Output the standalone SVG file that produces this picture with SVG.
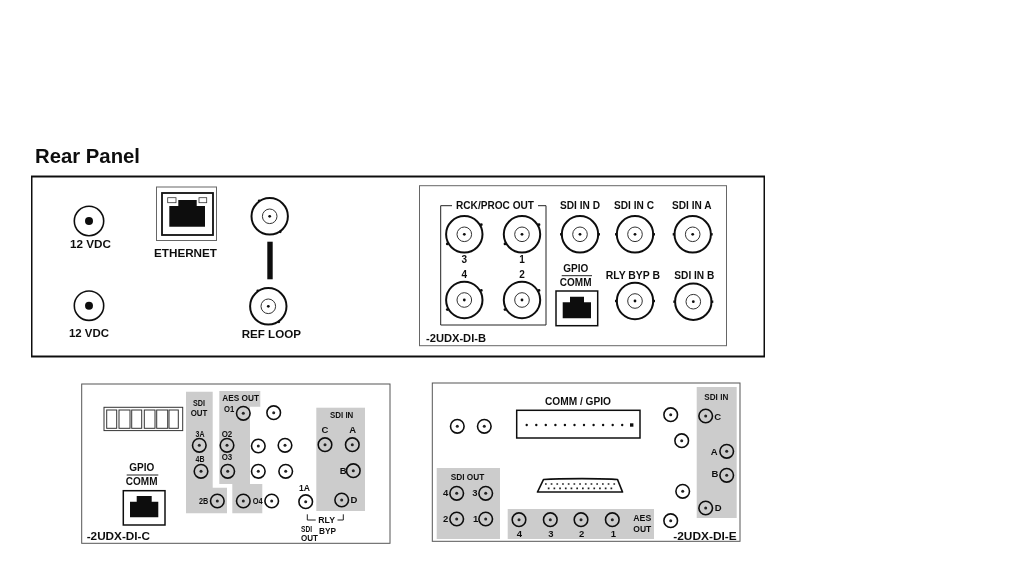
<svg xmlns="http://www.w3.org/2000/svg" width="1024" height="568" viewBox="0 0 1024 568">
<style>
text{font-family:"Liberation Sans",Arial,sans-serif;font-weight:700;fill:#111;font-size:10px}
.m{text-anchor:middle}
.b{font-size:11.5px}
.s{font-size:9.5px}
.t{font-size:8.5px}
.id{font-size:11.5px}
.g{fill:#ccc;stroke:none}
.k{fill:#111;stroke:none}
.l{fill:none;stroke:#222;stroke-width:1}
</style>
<defs>
<filter id="soft" x="0" y="0" width="100%" height="100%"><feGaussianBlur stdDeviation="0.3"/></filter>
<g id="dc"><circle r="14.7" fill="#fff" stroke="#111" stroke-width="1.6"/><circle r="4" fill="#111"/></g>
<g id="bncH"><circle r="18.2" fill="#fff" stroke="#111" stroke-width="2"/><circle r="7.3" fill="#fff" stroke="#333" stroke-width="1"/><circle r="1.4" fill="#111"/><rect x="-20" y="-1.2" width="2.5" height="2.4" fill="#111"/><rect x="17.5" y="-1.2" width="2.5" height="2.4" fill="#111"/></g>
<g id="bncU"><circle r="18.2" fill="#fff" stroke="#111" stroke-width="2"/><circle r="7.3" fill="#fff" stroke="#333" stroke-width="1"/><circle r="1.4" fill="#111"/><circle cx="17" cy="-9.6" r="1.4" fill="#111"/><circle cx="-17" cy="9.6" r="1.4" fill="#111"/></g>
<g id="bncD"><circle r="18.2" fill="#fff" stroke="#111" stroke-width="2"/><circle r="7.3" fill="#fff" stroke="#333" stroke-width="1"/><circle r="1.4" fill="#111"/><circle cx="-10.5" cy="-15.5" r="1.4" fill="#111"/><circle cx="10.5" cy="15.5" r="1.4" fill="#111"/></g>
<g id="sm"><circle r="6.8" fill="none" stroke="#111" stroke-width="1.6"/><circle r="1.5" fill="#222"/></g>
</defs>
<g filter="url(#soft)">
<text x="35" y="163" style="font-size:19.5px" textLength="105" lengthAdjust="spacingAndGlyphs">Rear Panel</text>

<g id="rear-panel">
<rect x="31.5" y="176.5" width="733" height="180" fill="#fff" stroke="#111" stroke-width="2"/>
<use href="#dc" x="89" y="221"/>
<text class="b" x="70" y="248" textLength="41" lengthAdjust="spacingAndGlyphs">12 VDC</text>
<use href="#dc" x="89" y="305.7"/>
<text class="b" x="69" y="336.7" textLength="40" lengthAdjust="spacingAndGlyphs">12 VDC</text>
<g id="ethernet">
<rect x="156.5" y="187" width="60" height="53.5" fill="#fff" stroke="#666" stroke-width="1"/>
<rect x="162" y="193" width="51" height="42" fill="#fff" stroke="#111" stroke-width="1.8"/>
<path class="k" d="M169.3 226.7V206H178.3V200H196.7V206H205V226.7Z"/>
<rect x="167.7" y="197.7" width="8.3" height="5" fill="#fff" stroke="#333" stroke-width=".8"/>
<rect x="199" y="197.7" width="7.7" height="5" fill="#fff" stroke="#333" stroke-width=".8"/>
<text class="b" x="154" y="256.7" textLength="63" lengthAdjust="spacingAndGlyphs">ETHERNET</text>
</g>
<use href="#bncD" x="269.7" y="216.3"/>
<rect class="k" x="267.3" y="241.7" width="5.4" height="37.6"/>
<use href="#bncD" x="268.3" y="306.3"/>
<text class="b" x="241.7" y="338" textLength="59.3" lengthAdjust="spacingAndGlyphs">REF LOOP</text>
</g>

<g id="panel-b">
<rect x="419.5" y="185.7" width="307" height="160" fill="#fff" stroke="#666" stroke-width="1"/>
<path class="l" d="M452 205.7H440.7V325H546V205.7H538"/>
<text x="456" y="209" textLength="78" lengthAdjust="spacingAndGlyphs">RCK/PROC OUT</text>
<use href="#bncU" x="464.3" y="234.3"/><use href="#bncU" x="522" y="234.3"/>
<use href="#bncU" x="464.3" y="300"/><use href="#bncU" x="522" y="300"/>
<use href="#bncH" x="580" y="234.3"/><use href="#bncH" x="635" y="234.3"/><use href="#bncH" x="692.7" y="234.3"/>
<use href="#bncH" x="635" y="301"/><use href="#bncH" x="693.3" y="301.7"/>
<text class="m" x="464.3" y="263.3">3</text><text class="m" x="522" y="263.3">1</text>
<text class="m" x="464.3" y="277.7">4</text><text class="m" x="522" y="277.7">2</text>
<text x="560" y="209.3" textLength="40" lengthAdjust="spacingAndGlyphs">SDI IN D</text>
<text x="614" y="209.3" textLength="40" lengthAdjust="spacingAndGlyphs">SDI IN C</text>
<text x="672" y="209.3" textLength="39.5" lengthAdjust="spacingAndGlyphs">SDI IN A</text>
<text x="605.7" y="279" textLength="54.3" lengthAdjust="spacingAndGlyphs">RLY BYP B</text>
<text x="674.3" y="279" textLength="40" lengthAdjust="spacingAndGlyphs">SDI IN B</text>
<g id="gpio-b">
<text class="m" x="575.7" y="271.7">GPIO</text>
<path class="l" d="M561.7 275.7H592"/>
<text class="m" x="575.7" y="285.7">COMM</text>
<rect x="556" y="291" width="41.7" height="34.7" fill="#fff" stroke="#111" stroke-width="1.5"/>
<path class="k" d="M562.7 318.3V302.3H570V296.7H584V302.3H591V318.3Z"/>
</g>
<text class="id" x="426" y="342.3" textLength="60" lengthAdjust="spacingAndGlyphs">-2UDX-DI-B</text>
</g>

<g id="panel-c">
<rect x="81.7" y="384" width="308.3" height="159.3" fill="#fff" stroke="#555" stroke-width="1"/>
<path class="g" d="M186 391.7H212.7V487.7H227V513.3H186Z"/>
<path class="g" d="M219.3 391H260.3V406.7H250V484H262.3V513.3H232.3V484H219.3Z"/>
<rect class="g" x="316.3" y="407.7" width="48.7" height="103.3"/>
<g id="terminal-block" fill="#fff" stroke="#333" stroke-width="1">
<rect x="104" y="407.3" width="78.7" height="23.3"/>
<rect x="106.7" y="410" width="10" height="18.3"/><rect x="119" y="410" width="11" height="18.3"/><rect x="131.7" y="410" width="10" height="18.3"/><rect x="144.3" y="410" width="10.7" height="18.3"/><rect x="156.7" y="410" width="11" height="18.3"/><rect x="169" y="410" width="9.3" height="18.3"/>
</g>
<use href="#sm" x="243.3" y="413.3"/><use href="#sm" x="273.7" y="412.7"/>
<use href="#sm" x="199.3" y="445.3"/><use href="#sm" x="227" y="445.3"/><use href="#sm" x="258.3" y="446"/><use href="#sm" x="285" y="445.3"/><use href="#sm" x="325" y="444.7"/><use href="#sm" x="352.3" y="444.7"/>
<use href="#sm" x="201" y="471.3"/><use href="#sm" x="227.7" y="471.3"/><use href="#sm" x="258.3" y="471.3"/><use href="#sm" x="285.7" y="471.3"/><use href="#sm" x="353.3" y="470.7"/>
<use href="#sm" x="217.3" y="501"/><use href="#sm" x="243.3" y="501"/><use href="#sm" x="271.7" y="501"/><use href="#sm" x="305.7" y="501.7"/><use href="#sm" x="341.7" y="500"/>
<text class="t m" x="199" y="406.3" textLength="12" lengthAdjust="spacingAndGlyphs">SDI</text>
<text class="t m" x="199" y="415.6" textLength="16.7" lengthAdjust="spacingAndGlyphs">OUT</text>
<text class="s" x="222.3" y="401.3" textLength="36.7" lengthAdjust="spacingAndGlyphs">AES OUT</text>
<text class="s" x="224" y="412.3" textLength="10.3" lengthAdjust="spacingAndGlyphs">O1</text>
<text class="s m" x="200" y="436.7" textLength="9" lengthAdjust="spacingAndGlyphs">3A</text>
<text class="s m" x="200" y="461.7" textLength="9" lengthAdjust="spacingAndGlyphs">4B</text>
<text class="s" x="221.7" y="437.3" textLength="10.6" lengthAdjust="spacingAndGlyphs">O2</text>
<text class="s" x="221.7" y="460" textLength="10.6" lengthAdjust="spacingAndGlyphs">O3</text>
<text class="s" x="199" y="504" textLength="9.3" lengthAdjust="spacingAndGlyphs">2B</text>
<text class="s" x="252.7" y="504" textLength="10" lengthAdjust="spacingAndGlyphs">O4</text>
<text class="s" x="299" y="490.7" textLength="11" lengthAdjust="spacingAndGlyphs">1A</text>
<text class="s" x="330" y="418.3" textLength="23.3" lengthAdjust="spacingAndGlyphs">SDI IN</text>
<text class="s m" x="325" y="432.7">C</text><text class="s m" x="352.7" y="432.7">A</text>
<text class="s m" x="343.3" y="474">B</text><text class="s m" x="354" y="502.7">D</text>
<path class="l" d="M307.3 514.3V520H315.7M337.5 520H343.3V514.3"/>
<text class="s" x="318.3" y="523.3" textLength="16.7" lengthAdjust="spacingAndGlyphs">RLY</text>
<text class="s" x="319" y="534.3" textLength="17" lengthAdjust="spacingAndGlyphs">BYP</text>
<text class="t" x="301" y="532" textLength="11" lengthAdjust="spacingAndGlyphs">SDI</text>
<text class="t" x="301" y="541.3" textLength="17" lengthAdjust="spacingAndGlyphs">OUT</text>
<g id="gpio-c">
<text class="m" x="141.7" y="470.7">GPIO</text>
<path class="l" d="M126.7 475H158.3"/>
<text class="m" x="141.7" y="485">COMM</text>
<rect x="123.3" y="490.7" width="41.7" height="34.3" fill="#fff" stroke="#111" stroke-width="1.5"/>
<path class="k" d="M130 517.3V501.7H136.7V496H151.7V501.7H158.3V517.3Z"/>
</g>
<text class="id" x="86.7" y="540" textLength="63.3" lengthAdjust="spacingAndGlyphs">-2UDX-DI-C</text>
</g>

<g id="panel-e">
<rect x="432.3" y="383" width="307.7" height="158.3" fill="#fff" stroke="#555" stroke-width="1"/>
<rect class="g" x="696.7" y="387" width="40" height="131"/>
<rect class="g" x="436.7" y="468" width="63.3" height="71"/>
<rect class="g" x="507.7" y="509" width="146.3" height="30"/>
<use href="#sm" x="457.3" y="426.3"/><use href="#sm" x="484.3" y="426.3"/><use href="#sm" x="670.7" y="414.7"/><use href="#sm" x="681.7" y="440.7"/><use href="#sm" x="682.7" y="491.3"/><use href="#sm" x="670.7" y="520.7"/>
<use href="#sm" x="705.7" y="416"/><use href="#sm" x="726.7" y="451.3"/><use href="#sm" x="726.7" y="475.3"/><use href="#sm" x="705.7" y="508"/>
<use href="#sm" x="456.7" y="493.3"/><use href="#sm" x="485.7" y="493.3"/><use href="#sm" x="456.7" y="519"/><use href="#sm" x="485.7" y="519"/>
<use href="#sm" x="519" y="519.7"/><use href="#sm" x="550.3" y="519.7"/><use href="#sm" x="581" y="519.7"/><use href="#sm" x="612.3" y="519.7"/>
<text x="545" y="405.3" textLength="66" lengthAdjust="spacingAndGlyphs">COMM / GPIO</text>
<g id="comm-gpio">
<rect x="516.7" y="410.3" width="123.3" height="27.7" fill="#fff" stroke="#111" stroke-width="1.5"/>
<g class="k"><circle cx="526.7" cy="425" r="1.2"/><circle cx="536.3" cy="425" r="1.2"/><circle cx="545.8" cy="425" r="1.2"/><circle cx="555.4" cy="425" r="1.2"/><circle cx="564.9" cy="425" r="1.2"/><circle cx="574.5" cy="425" r="1.2"/><circle cx="584" cy="425" r="1.2"/><circle cx="593.6" cy="425" r="1.2"/><circle cx="603.1" cy="425" r="1.2"/><circle cx="612.7" cy="425" r="1.2"/><circle cx="622.2" cy="425" r="1.2"/><rect x="630" y="423.3" width="3.4" height="3.4"/></g>
</g>
<g id="dsub">
<path d="M537.5 492L543.5 479.5C560 478.3 605 478.3 617.5 479.5L622.5 492Z" fill="#fff" stroke="#111" stroke-width="1.7" stroke-linejoin="round"/>
<path d="M545 484H616" fill="none" stroke="#222" stroke-width="1.7" stroke-dasharray="1.7 4"/>
<path d="M547.8 488.3H613" fill="none" stroke="#222" stroke-width="1.7" stroke-dasharray="1.7 4"/>
</g>
<text class="s" x="704.3" y="399.7" textLength="24" lengthAdjust="spacingAndGlyphs">SDI IN</text>
<text class="s m" x="717.7" y="419.7">C</text><text class="s m" x="714.3" y="454.7">A</text><text class="s m" x="715" y="477.3">B</text><text class="s m" x="718.3" y="511.3">D</text>
<text class="s" x="450.7" y="479.7" textLength="33.6" lengthAdjust="spacingAndGlyphs">SDI OUT</text>
<text class="s m" x="445.7" y="496.3">4</text><text class="s m" x="475" y="496.3">3</text><text class="s m" x="445.7" y="522.3">2</text><text class="s m" x="475.7" y="522.3">1</text>
<text class="s m" x="519.3" y="537.3">4</text><text class="s m" x="551" y="537.3">3</text><text class="s m" x="581.7" y="537.3">2</text><text class="s m" x="613.3" y="537.3">1</text>
<text class="s" x="633.3" y="521.3" textLength="18" lengthAdjust="spacingAndGlyphs">AES</text>
<text class="s" x="633.3" y="532" textLength="18" lengthAdjust="spacingAndGlyphs">OUT</text>
<text class="id" x="673.3" y="539.7" textLength="63.4" lengthAdjust="spacingAndGlyphs">-2UDX-DI-E</text>
</g>
</g>
</svg>
